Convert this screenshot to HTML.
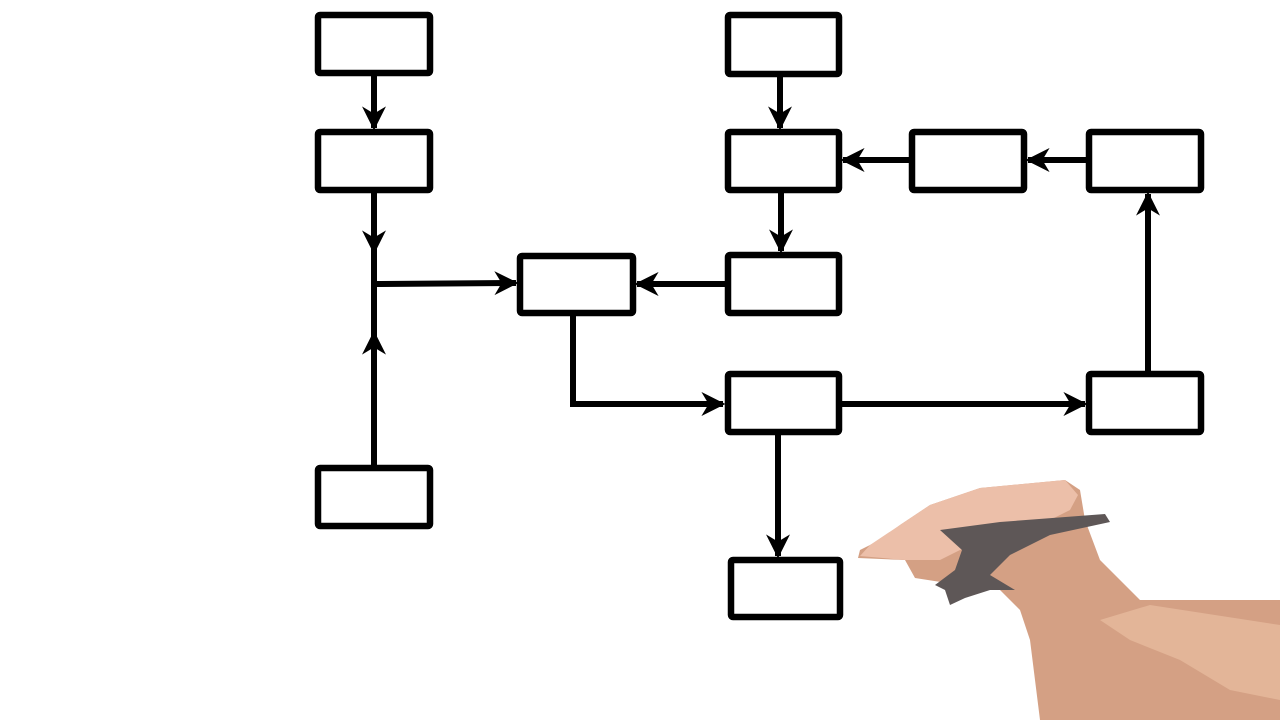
<!DOCTYPE html>
<html><head><meta charset="utf-8"><style>
html,body{margin:0;padding:0;background:#fff;width:1280px;height:720px;overflow:hidden}
</style></head><body>
<svg width="1280" height="720" viewBox="0 0 1280 720" xmlns="http://www.w3.org/2000/svg">
<defs>
<marker id="a" viewBox="0 0 10 10" refX="9" refY="5" markerWidth="4" markerHeight="4.4" orient="auto" markerUnits="strokeWidth">
<path d="M0,0 L10,5 L0,10 L3,5 z" fill="#000"/>
</marker>
</defs>
<g stroke="#000" stroke-width="6" fill="none">
<line x1="374" y1="74" x2="374" y2="128" marker-end="url(#a)"/>
<line x1="374" y1="192" x2="374" y2="252" marker-end="url(#a)"/>
<line x1="374" y1="250" x2="374" y2="466"/>
<line x1="374" y1="466" x2="374" y2="333" marker-end="url(#a)"/>
<line x1="374" y1="284" x2="516" y2="283" marker-end="url(#a)"/>
<line x1="780" y1="76" x2="780" y2="128" marker-end="url(#a)"/>
<line x1="781" y1="191" x2="781" y2="251" marker-end="url(#a)"/>
<line x1="725" y1="284" x2="637" y2="284" marker-end="url(#a)"/>
<line x1="910" y1="160" x2="843" y2="160" marker-end="url(#a)"/>
<line x1="1087" y1="160" x2="1028" y2="160" marker-end="url(#a)"/>
<line x1="1148" y1="373" x2="1148" y2="194" marker-end="url(#a)"/>
<polyline points="573,315 573,404 723,404" marker-end="url(#a)"/>
<line x1="841" y1="404" x2="1085" y2="404" marker-end="url(#a)"/>
<line x1="778" y1="433" x2="778" y2="556" marker-end="url(#a)"/>
</g>
<g stroke="#000" stroke-width="6.5" fill="#fff">
<rect x="318" y="15" width="112" height="58" rx="2"/>
<rect x="318" y="132" width="112" height="58" rx="2"/>
<rect x="318" y="468" width="112" height="58" rx="2"/>
<rect x="520" y="256" width="113" height="57" rx="2"/>
<rect x="728" y="15" width="111" height="59" rx="2"/>
<rect x="728" y="132" width="111" height="58" rx="2"/>
<rect x="912" y="132" width="112" height="58" rx="2"/>
<rect x="1089" y="132" width="112" height="58" rx="2"/>
<rect x="728" y="255" width="111" height="58" rx="2"/>
<rect x="728" y="374" width="111" height="58" rx="2"/>
<rect x="1089" y="374" width="112" height="58" rx="2"/>
<rect x="731" y="560" width="109" height="57" rx="2"/>
</g>
<path d="M1040,720 L1280,720 L1280,600 L1140,600 L1100,560 L1085,520 L1080,490 L1065,480 L980,488 L930,505 L900,525 L880,540 L860,550 L858,558 L905,560 L915,578 L960,585 L1000,590 L1020,610 L1030,640 Z" fill="#d4a084"/>
<path d="M900,525 L930,505 L980,488 L1065,480 L1078,495 L1070,510 L1040,525 L990,540 L960,550 L940,560 L905,560 L860,556 L870,545 Z" fill="#ecbfa9"/>
<path d="M1100,620 L1150,605 L1280,625 L1280,700 L1230,690 L1180,660 L1130,640 Z" fill="#e3b598"/>
<path d="M940,530 L1000,522 L1105,514 L1110,522 L1050,535 L1010,555 L990,575 L1015,590 L990,590 L965,598 L950,605 L945,590 L935,585 L955,570 L962,550 Z" fill="#5e5757"/>
</svg>
</body></html>
